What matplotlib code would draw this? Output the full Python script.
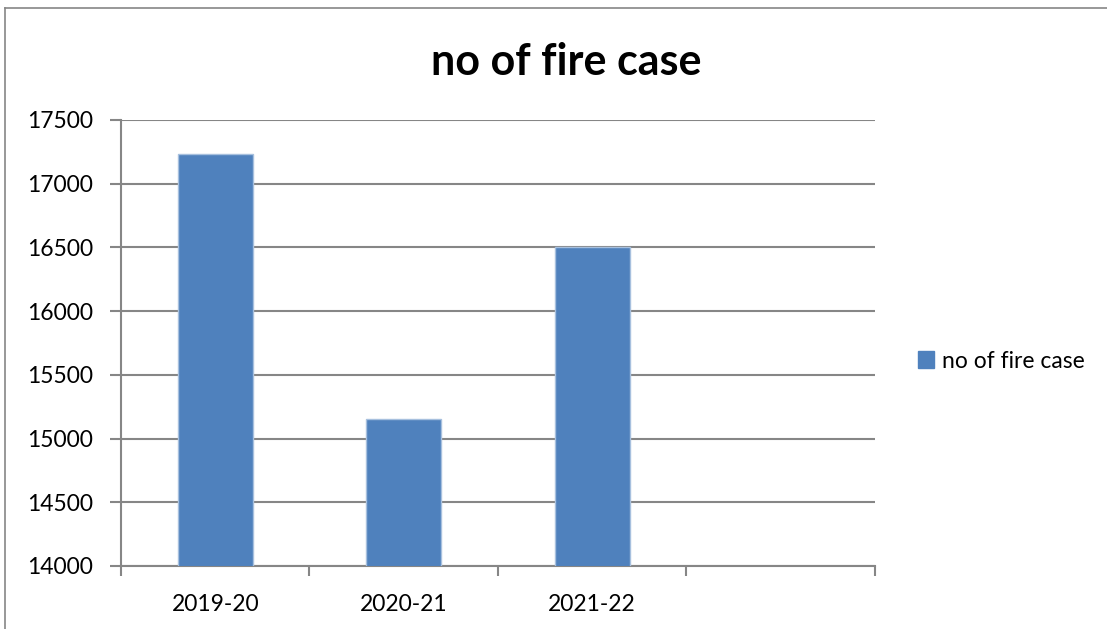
import matplotlib
matplotlib.use("Agg")
import matplotlib.pyplot as plt
from matplotlib.lines import Line2D

categories = ["2019-20", "2020-21", "2021-22", ""]
values = [17231, 15156, 16500, None]
series_name = "no of fire case"
yticks = [14000, 14500, 15000, 15500, 16000, 16500, 17000, 17500]

plt.rcParams['font.family'] = ['Lato', 'DejaVu Sans']

W, H = 1107, 629
fig = plt.figure(figsize=(W / 100, H / 100), dpi=100)
ax = fig.add_axes([121 / W, 1 - 566 / H, (875 - 121) / W, (566 - 120) / H])

grid_c = "#868686"
bar_c = "#4f81bd"

xs = [i for i, v in enumerate(values) if v is not None]
vs = [v for v in values if v is not None]
ax.bar(xs, vs, width=0.4, color=bar_c, edgecolor="#a7c0de", linewidth=1,
       label=series_name, zorder=3)

ax.set_xlim(-0.5, len(categories) - 0.5)
ax.set_ylim(14000, 17500)
ax.set_yticks(yticks)
ax.set_yticklabels([str(t) for t in yticks], fontsize=16.5)
ax.yaxis.grid(True, color=grid_c, linewidth=1.5, zorder=0)
ax.set_axisbelow(True)

# category ticks at boundaries
ax.set_xticks([i - 0.5 for i in range(len(categories) + 1)])
ax.set_xticklabels([])
ax.set_xticks(range(len(categories)), minor=True)
ax.set_xticklabels(categories, minor=True, fontsize=16.5)
ax.tick_params(axis='x', which='minor', length=0, pad=20)
ax.tick_params(axis='x', which='major', length=7, width=1.5, color=grid_c, direction='out')
ax.tick_params(axis='y', length=8, width=1.5, color=grid_c, direction='out', pad=12)

for s in ["top", "right"]:
    ax.spines[s].set_visible(False)
for s in ["left", "bottom"]:
    ax.spines[s].set_color(grid_c)
    ax.spines[s].set_linewidth(1.5)

fig.text(566 / W, 1 - 62 / H, "no of fire case", ha="center", va="center",
         fontsize=31, fontweight="bold")

leg = fig.legend(handles=[plt.Rectangle((0, 0), 1, 1, color=bar_c)],
                 labels=[series_name], loc="center left",
                 bbox_to_anchor=(900 / W, 1 - 361 / H), frameon=False,
                 fontsize=16.5, handlelength=0.7, handleheight=0.7,
                 handletextpad=0.35, borderpad=0.3)

# outer chart frame
fig.add_artist(Line2D([5 / W, 5 / W], [0, 1 - 8 / H], color=grid_c, linewidth=1.2,
                      transform=fig.transFigure))
fig.add_artist(Line2D([5 / W, 1], [1 - 8 / H, 1 - 8 / H], color=grid_c, linewidth=1.2,
                      transform=fig.transFigure))

fig.savefig("out.png", dpi=100, facecolor="white")
